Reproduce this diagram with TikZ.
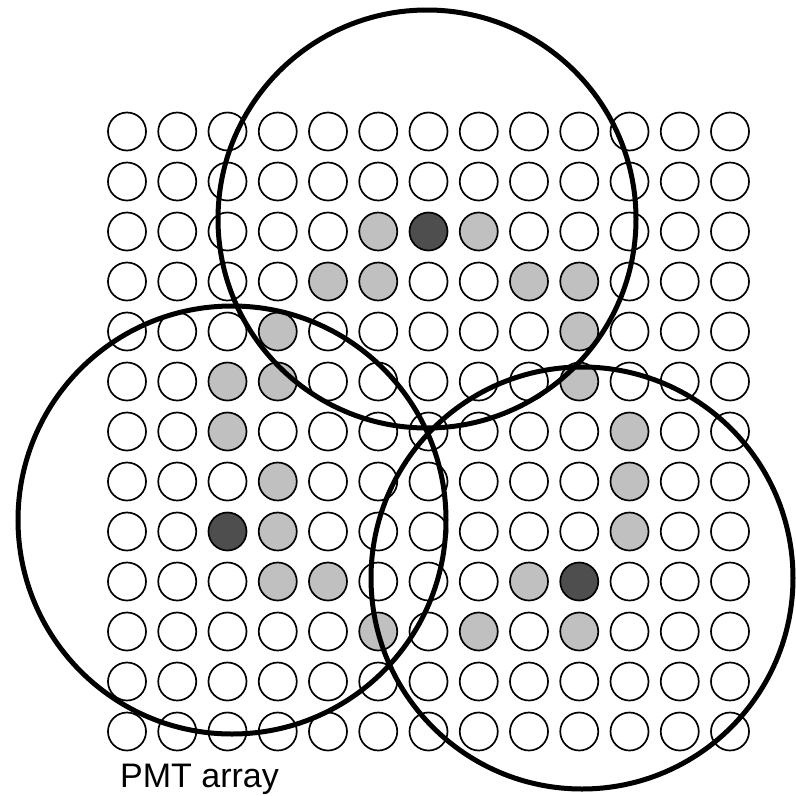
\documentclass[tikz,border=0pt]{standalone}
\usepackage{fontspec}
\setmainfont{Liberation Sans}
\definecolor{litgray}{RGB}{192,192,192}
\definecolor{hotgray}{RGB}{78,78,78}
\tikzset{
  pmt/.style={circle, draw=black, line width=1.7pt, minimum size=38pt, inner sep=0pt, fill=white},
  lit/.style={fill=litgray},
  hot/.style={fill=hotgray},
  big/.style={circle, draw=black, line width=5pt, inner sep=0pt},
  c5-2/.style=lit, c7-2/.style=lit, c6-2/.style=hot,
  c4-3/.style=lit, c5-3/.style=lit, c8-3/.style=lit, c9-3/.style=lit,
  c3-4/.style=lit, c9-4/.style=lit,
  c2-5/.style=lit, c3-5/.style=lit, c9-5/.style=lit,
  c2-6/.style=lit, c10-6/.style=lit,
  c3-7/.style=lit, c10-7/.style=lit,
  c2-8/.style=hot, c3-8/.style=lit, c10-8/.style=lit,
  c3-9/.style=lit, c4-9/.style=lit, c8-9/.style=lit, c9-9/.style=hot,
  c5-10/.style=lit, c7-10/.style=lit, c9-10/.style=lit
}
\begin{document}
\begin{tikzpicture}[x=1pt,y=-1pt]
\useasboundingbox[fill=white] (0,0) rectangle (796,796);
\foreach \i in {0,...,12} {
  \foreach \j in {0,...,12} {
    \node[pmt, c\i-\j/.try] (p-\i-\j) at ({127+50.25*\i},{131.5+50*\j}) {};
  }
}
\node[big, minimum size=418pt] (top) at (427,219) {};
\node[big, minimum size=428pt] (left) at (232,520) {};
\node[big, minimum size=422pt] (right) at (582,578) {};
\node[anchor=base west, inner sep=0pt, font=\fontsize{34}{40}\selectfont] (lbl) at (120,787) {PMT array};
\end{tikzpicture}
\end{document}
